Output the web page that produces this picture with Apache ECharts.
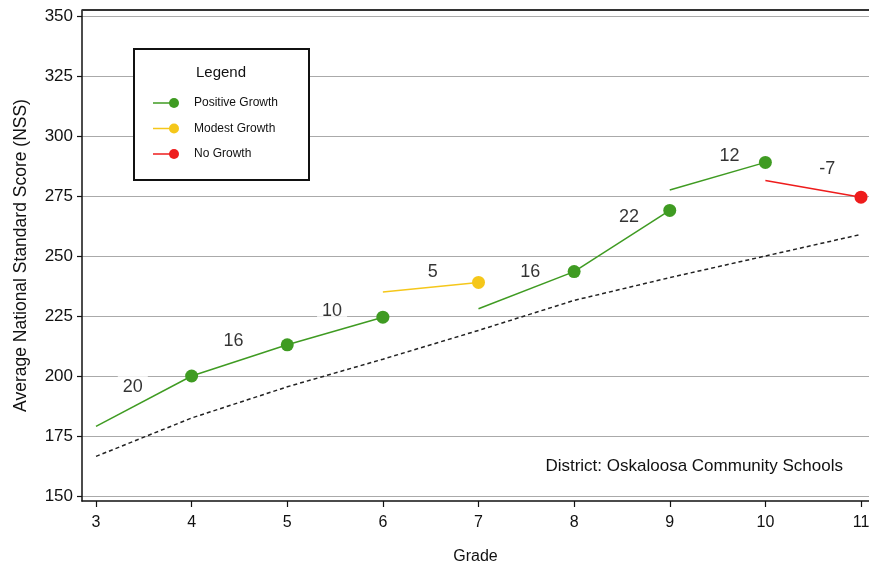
<!DOCTYPE html>
<html>
<head>
<meta charset="utf-8">
<script src="https://cdn.jsdelivr.net/npm/echarts@6/dist/echarts.min.js"></script>
<style>
html,body{margin:0;padding:0;background:#fff;overflow:hidden;}
#chart{width:869px;height:564px;}
</style>
</head>
<body>
<div id="chart"></div>
<script>
// ---- data ----
var grades = [3, 4, 5, 6, 7, 8, 9, 10, 11];
var yTicks = [150, 175, 200, 225, 250, 275, 300, 325, 350];
// each growth segment runs from grade g (start score) to grade g+1 (end score)
var segFromGrade = [3, 4, 5, 6, 7, 8, 9, 10];
var segStart = [179, 200, 213, 235, 228, 243.5, 277.5, 281.5];
var segEnd = [200, 213, 224.5, 239, 243.5, 269, 289, 274.5];
var growth = [20, 16, 10, 5, 16, 22, 12, -7];
var growthClass = ['Positive Growth', 'Positive Growth', 'Positive Growth', 'Modest Growth',
                   'Positive Growth', 'Positive Growth', 'Positive Growth', 'No Growth'];
var expected = [166.5, 182.5, 195.5, 207, 219, 231.5, 241, 250, 259];
var legendNames = ['Positive Growth', 'Modest Growth', 'No Growth'];

// ---- style / layout ----
var classColor = {'Positive Growth': '#3f9b22', 'Modest Growth': '#f5c71a', 'No Growth': '#ee1c1c'};
var labelOffsetPx = [[-11, -14], [-6, -19], [-3, -20], [2, -15], [4, -18], [7, -24], [12, -20], [14, -20]];
var gridL = 82, gridR = 0, gridT = 10, gridB = 63, W = 869, H = 564;
var firstTickPx = 96, lastTickPx = 861;      // x pixels of grade 3 and grade 11
var yTopTickPx = 16, yBotTickPx = 496;       // y pixels of 350 and 150
var xPU = (lastTickPx - firstTickPx) / (grades[grades.length - 1] - grades[0]);
var xMin = grades[0] - (firstTickPx - gridL) / xPU;
var xMax = grades[grades.length - 1] + (W - gridR - lastTickPx) / xPU;
var yPU = (yBotTickPx - yTopTickPx) / (yTicks[yTicks.length - 1] - yTicks[0]);
var yMax = yTicks[yTicks.length - 1] + (yTopTickPx - gridT) / yPU;
var yMin = yTicks[0] - ((H - gridB) - yBotTickPx) / yPU;
var FONT = '"Liberation Sans", Arial, Helvetica, sans-serif';
var TXT = '#111';

var series = [];
// expected-growth dashed line
series.push({
  type: 'line', name: 'Expected', z: 3,
  data: grades.map(function (g, i) { return [g, expected[i]]; }),
  symbol: 'none', silent: true,
  lineStyle: {color: '#222', width: 1.5, type: [4, 3]}
});
// growth segments
segFromGrade.forEach(function (g, i) {
  var c = classColor[growthClass[i]];
  series.push({
    type: 'line', name: growthClass[i], z: 4,
    data: [{value: [g, segStart[i]], symbol: 'none'},
           {value: [g + 1, segEnd[i]], symbol: 'circle', symbolSize: 13}],
    lineStyle: {color: c, width: 1.5},
    itemStyle: {color: c, borderWidth: 0},
    showAllSymbol: true
  });
});
// growth value labels at segment midpoints
series.push({
  type: 'scatter', z: 2, silent: true,
  symbolSize: 0,
  itemStyle: {color: 'rgba(0,0,0,0)'},
  data: segFromGrade.map(function (g, i) {
    return {
      value: [g + 0.5, (segStart[i] + segEnd[i]) / 2],
      label: {offset: labelOffsetPx[i]}
    };
  }),
  label: {
    show: true, position: 'inside',
    formatter: function (p) { return String(growth[p.dataIndex]); },
    fontSize: 18, color: '#000', fontFamily: FONT,
    backgroundColor: '#fff', padding: [6, 5, 2, 5]
  }
});

// legend (drawn box)
var lg = {x: 134, y: 49, w: 175, h: 131};
var legendGraphics = [
  {type: 'rect', z: 50, shape: {x: lg.x, y: lg.y, width: lg.w, height: lg.h},
   style: {fill: '#fff', stroke: '#111', lineWidth: 2}},
  {type: 'text', z: 51, x: 221, y: 73,
   style: {text: 'Legend', fontSize: 15, fontFamily: FONT, fill: TXT, align: 'center', verticalAlign: 'middle'}}
];
legendNames.forEach(function (n, i) {
  var yy = 103 + i * 25.5;
  var c = classColor[n];
  legendGraphics.push({type: 'line', z: 51, shape: {x1: 153, y1: yy, x2: 174, y2: yy}, style: {stroke: c, lineWidth: 1.5}});
  legendGraphics.push({type: 'circle', z: 52, shape: {cx: 174, cy: yy, r: 5}, style: {fill: c}});
  legendGraphics.push({type: 'text', z: 51, x: 194, y: yy,
    style: {text: n, fontSize: 12, fontFamily: FONT, fill: TXT, align: 'left', verticalAlign: 'middle'}});
});

var chart = echarts.init(document.getElementById('chart'), null, {renderer: 'canvas'});
chart.setOption({
  animation: false,
  backgroundColor: '#fff',
  textStyle: {fontFamily: FONT},
  grid: {left: gridL, right: gridR, top: gridT, bottom: gridB, containLabel: false, outerBoundsMode: 'none'},
  xAxis: {
    type: 'value', min: xMin, max: xMax,
    name: 'Grade', nameLocation: 'middle', nameGap: 48,
    nameTextStyle: {fontSize: 16, color: TXT, fontFamily: FONT},
    axisLine: {show: true, onZero: false, lineStyle: {color: '#111', width: 1.5}},
    axisTick: {show: true, length: 6, customValues: grades, lineStyle: {color: '#111', width: 1.2}},
    axisLabel: {customValues: grades, fontSize: 16, color: TXT, margin: 14, fontFamily: FONT},
    splitLine: {show: false}
  },
  yAxis: {
    type: 'value', min: yMin, max: yMax,
    name: 'Average National Standard Score (NSS)', nameLocation: 'middle', nameGap: 52,
    nameTextStyle: {fontSize: 17.5, color: TXT, fontFamily: FONT},
    axisLine: {show: true, onZero: false, lineStyle: {color: '#111', width: 1.5}},
    axisTick: {show: true, length: 5, customValues: yTicks, lineStyle: {color: '#111', width: 1.2}},
    axisLabel: {customValues: yTicks, fontSize: 17, color: TXT, margin: 9, fontFamily: FONT},
    splitLine: {show: true, lineStyle: {color: '#aaaaaa', width: 1.2}}
  },
  graphic: [
    {type: 'line', z: 40, shape: {x1: gridL, y1: gridT, x2: W, y2: gridT}, style: {stroke: '#333', lineWidth: 2}},
    {type: 'text', z: 40, x: 843, y: 466,
     style: {text: 'District: Oskaloosa Community Schools', fontSize: 17, fontFamily: FONT, fill: TXT, align: 'right', verticalAlign: 'middle'}}
  ].concat(legendGraphics),
  series: series
});
</script>
</body>
</html>
